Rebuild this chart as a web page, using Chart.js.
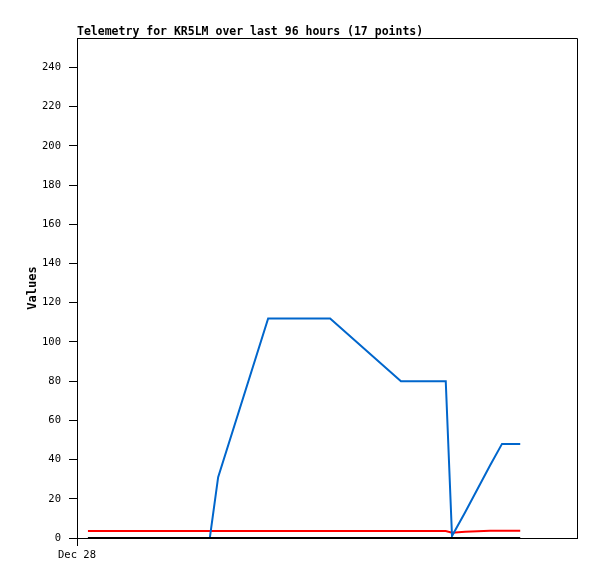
<!DOCTYPE html>
<html>
<head>
<meta charset="utf-8">
<script src="https://cdn.jsdelivr.net/npm/chart.js@4"></script>
<style>
  html,body{margin:0;padding:0;background:#fff;}
  canvas{display:block;}
</style>
</head>
<body>
<canvas id="chart" width="597" height="579"></canvas>
<script>
// hours since Dec 28 00:00 (96 hour window)
const hours = [2.1, 8, 14, 20, 25.5, 27.1, 36.7, 42.5, 48.6, 62.2, 70.8, 72.0, 74.5, 79.3, 81.6, 83.5, 85.1];
const blueVals = [0, 0, 0, 0, 0, 31, 112, 112, 112, 80, 80, 1, 13, 37, 48, 48, 48];
const redVals = [3.6, 3.6, 3.6, 3.6, 3.6, 3.6, 3.6, 3.6, 3.6, 3.6, 3.6, 2.7, 3.2, 3.7, 3.7, 3.7, 3.7];
const blackVals = [0, 0, 0, 0, 0, 0, 0, 0, 0, 0, 0, 0, 0, 0, 0, 0, 0];
const xTickLabels = { 0: "Dec 28" };
const TITLE = "Telemetry for KR5LM over last 96 hours (17 points)";

const MONO = "'DejaVu Sans Mono', monospace";

function pts(vals){ return hours.map((h,i)=>({x:h, y:vals[i]})); }

const frame = {
  id: "frame",
  afterDraw(c){
    const {ctx, chartArea:a} = c;
    ctx.save();
    ctx.strokeStyle = "#000";
    ctx.lineWidth = 1;
    ctx.beginPath();
    ctx.moveTo(a.left, a.top + 0.5);
    ctx.lineTo(a.right + 0.5, a.top + 0.5);
    ctx.lineTo(a.right + 0.5, a.bottom);
    ctx.stroke();
    ctx.fillStyle = "#000";
    ctx.font = "bold 11.5px " + MONO;
    ctx.textBaseline = "alphabetic";
    ctx.fillText(TITLE, a.left, a.top - 3);
    ctx.restore();
  }
};

new Chart(document.getElementById("chart"), {
  type: "line",
  data: {
    datasets: [
      { data: pts(blueVals), borderColor: "#0066cc", borderWidth: 2, order: 2 },
      { data: pts(redVals), borderColor: "#ff0000", borderWidth: 2, order: 3 },
      { data: pts(blackVals), borderColor: "#000000", borderWidth: 2, order: 1 }
    ]
  },
  options: {
    responsive: false,
    animation: false,
    layout: { padding: { top: 38, right: 20, left: 0, bottom: 0 } },
    elements: { point: { radius: 0 }, line: { tension: 0 } },
    plugins: { legend: { display: false }, tooltip: { enabled: false } },
    scales: {
      x: {
        type: "linear", min: 0, max: 96,
        afterBuildTicks: s => { s.ticks = [{ value: 0 }]; },
        afterFit: s => { s.height = 41; },
        ticks: { callback: v => xTickLabels[v] || "", color: "#000", font: { family: MONO, size: 10.5 }, maxRotation: 0, padding: 3 },
        grid: { drawOnChartArea: false, drawTicks: true, tickLength: 8, color: "#000" },
        border: { color: "#000", width: 1 }
      },
      y: {
        min: 0, max: 255,
        afterBuildTicks: s => { s.ticks = s.ticks.filter(t => t.value % 20 === 0); },
        afterFit: s => { s.width = 77; },
        ticks: { stepSize: 20, color: "#000", font: { family: MONO, size: 10.5 }, padding: 8 },
        grid: { drawOnChartArea: false, drawTicks: true, tickLength: 8, color: "#000" },
        border: { color: "#000", width: 1 },
        title: { display: true, text: "Values", color: "#000", font: { family: MONO, size: 12, weight: "bold" }, padding: { top: 26, bottom: 0 } }
      }
    }
  },
  plugins: [frame]
});
</script>
</body>
</html>
